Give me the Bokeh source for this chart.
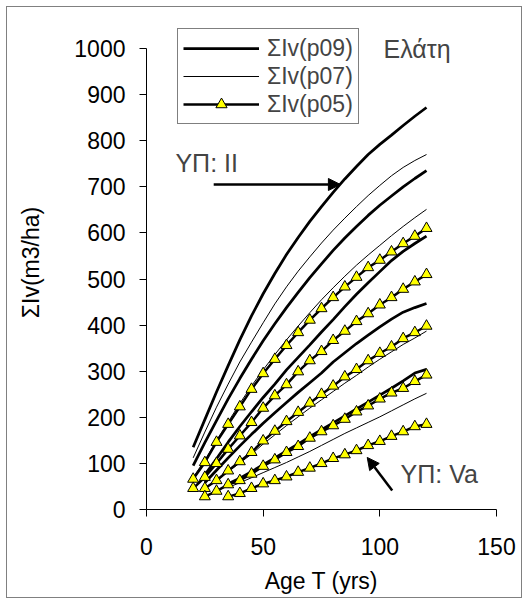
from bokeh.plotting import figure
from bokeh.models import (Range1d, FixedTicker, Legend, LegendItem, Label,
                          Arrow, NormalHead)
from bokeh.embed import file_html
from bokeh.resources import INLINE

# ---------------- data ----------------
T_II = [20, 25, 30, 35, 40, 45, 50, 55, 60, 65, 70, 75, 80, 85, 90, 95, 100, 105, 110, 115, 120]
T_IV = [25, 30, 35, 40, 45, 50, 55, 60, 65, 70, 75, 80, 85, 90, 95, 100, 105, 110, 115, 120]
T_Va = [35, 40, 45, 50, 55, 60, 65, 70, 75, 80, 85, 90, 95, 100, 105, 110, 115, 120]

# p09 (thick lines)
p09_II = [135, 195, 255, 312, 368, 420, 468, 512, 553, 590, 625, 657, 688, 717, 744, 770, 792, 812, 833, 853, 872]
p09_III = [95, 145, 193, 240, 284, 326, 366, 403, 438, 471, 503, 533, 562, 589, 614, 638, 660, 680, 700, 718, 735]
p09_IV = [75, 110, 146, 180, 212, 243, 272, 303, 330, 357, 385, 412, 440, 467, 492, 516, 540, 560, 577, 593]
p09_V = [58, 85, 112, 138, 163, 187, 210, 232, 254, 275, 296, 320, 340, 360, 378, 396, 413, 428, 438, 447]
p09_Va = [56, 68, 82, 97, 112, 127, 142, 158, 173, 188, 203, 218, 233, 248, 263, 279, 296, 304]

# p07 (thin lines)
p07_II = [112, 168, 222, 272, 320, 363, 405, 446, 483, 517, 548, 578, 606, 632, 657, 681, 703, 724, 742, 757, 770]
p07_III = [70, 107, 150, 190, 230, 268, 303, 336, 368, 398, 427, 455, 481, 506, 530, 552, 573, 594, 614, 633, 651]
p07_V = [45, 62, 82, 101, 120, 142, 162, 182, 201, 220, 238, 256, 274, 291, 309, 326, 342, 358, 372, 387]
p07_Va = [48, 58, 69, 80, 91, 102, 114, 126, 139, 152, 165, 177, 189, 201, 214, 227, 240, 252]

# p05 (thick lines with triangles)
p05_II = [66, 102, 146, 185, 223, 261, 295, 326, 356, 384, 411, 436, 460, 483, 504, 525, 541, 559, 577, 593, 610]
p05_III = [46, 70, 100, 131, 160, 189, 220, 247, 271, 299, 323, 343, 367, 387, 408, 425, 444, 460, 478, 494, 510]
p05_IV = [46, 63, 84, 104, 124, 149, 170, 191, 211, 231, 250, 268, 288, 304, 323, 339, 353, 371, 384, 398]
p05_V = [28, 40, 54, 63, 77, 94, 108, 124, 137, 155, 169, 182, 196, 212, 225, 240, 253, 263, 278, 292]
p05_Va = [28, 35, 46, 56, 63, 71, 81, 90, 100, 111, 119, 128, 139, 148, 159, 169, 180, 185]

x_ticks = [0, 50, 100, 150]
y_ticks = [0, 100, 200, 300, 400, 500, 600, 700, 800, 900, 1000]

series_labels = ["ΣIv(p09)", "ΣIv(p07)", "ΣIv(p05)"]
x_title = "Age T (yrs)"
y_title = "ΣIv(m3/ha)"
species = "Ελάτη"
note_top = "ΥΠ: II"
note_bottom = "ΥΠ: Va"

# ---------------- layout ----------------
FONT = "Liberation Sans"
FS = "23px"
FS_NOTE = "25px"
MARGIN = 6                      # outer chart-area border inset (page px)
W, H = 530 - 2 * MARGIN - 2, 606 - 2 * MARGIN - 2
LEFT, TOP = 146 - MARGIN - 1, 15 - MARGIN - 1
RIGHT = (530 - MARGIN - 1) - 496
BOTTOM = (606 - MARGIN - 1) - 509
frame_h = H - TOP - BOTTOM
px_per_100 = 46.1
y_end = 100.0 * frame_h / px_per_100

p = figure(width=W, height=H, output_backend="svg", toolbar_location=None,
           x_range=Range1d(0, 150), y_range=Range1d(0, y_end),
           min_border_left=LEFT, min_border_right=RIGHT,
           min_border_top=TOP, min_border_bottom=BOTTOM,
           background_fill_color="white", border_fill_color="white",
           margin=(MARGIN, MARGIN, MARGIN, MARGIN),
           styles={"border": "1px solid #808080"})
p.title.visible = False
p.outline_line_color = None
p.xgrid.visible = False
p.ygrid.visible = False

for ax in (p.xaxis[0], p.yaxis[0]):
    ax.axis_line_color = "black"
    ax.axis_line_width = 1
    ax.major_tick_line_color = "black"
    ax.major_tick_out = 7
    ax.major_tick_in = 0
    ax.minor_tick_line_color = None
    ax.major_label_text_font = FONT
    ax.major_label_text_font_size = FS
    ax.major_label_text_color = "black"
    ax.axis_label_text_font = FONT
    ax.axis_label_text_font_size = FS
    ax.axis_label_text_font_style = "normal"
    ax.axis_label_text_color = "black"

p.xaxis.ticker = FixedTicker(ticks=x_ticks)
p.yaxis.ticker = FixedTicker(ticks=y_ticks)
p.yaxis.bounds = (0, 1000)
p.xaxis.axis_label = x_title
p.yaxis.axis_label = y_title
p.xaxis.major_label_standoff = 21
p.xaxis.axis_label_standoff = 10
p.yaxis.major_label_standoff = 14
p.yaxis.axis_label_standoff = 27

# ---------------- series ----------------
r09 = None
for t, v in [(T_II, p09_II), (T_II, p09_III), (T_IV, p09_IV), (T_IV, p09_V), (T_Va, p09_Va)]:
    r = p.line(t, v, line_color="black", line_width=2.75)
    r09 = r09 or r

r07 = None
for t, v in [(T_II, p07_II), (T_II, p07_III), (T_IV, p07_V), (T_Va, p07_Va)]:
    r = p.line(t, v, line_color="black", line_width=1)
    r07 = r07 or r

r05l = r05s = None
for t, v in [(T_II, p05_II), (T_II, p05_III), (T_IV, p05_IV), (T_IV, p05_V), (T_Va, p05_Va)]:
    rl = p.line(t, v, line_color="black", line_width=2.5)
    rs = p.scatter(t, v, marker="triangle", size=11, fill_color="#FFFF00",
                   line_color="black", line_width=1)
    r05l = r05l or rl
    r05s = r05s or rs

legend = Legend(items=[LegendItem(label=series_labels[0], renderers=[r09]),
                       LegendItem(label=series_labels[1], renderers=[r07]),
                       LegendItem(label=series_labels[2], renderers=[r05l, r05s])],
                location=(31, 385), orientation="vertical",
                border_line_color="black", border_line_width=1,
                background_fill_color="white", background_fill_alpha=1,
                label_text_font=FONT, label_text_font_size=FS,
                padding=5, spacing=0, margin=0,
                glyph_width=76, glyph_height=28, label_height=28,
                label_standoff=8)
p.add_layout(legend, "center")

# ---------------- annotations ----------------
p.add_layout(Label(x=101.6, y=998, text=species, text_font=FONT,
                   text_font_size=FS_NOTE, text_baseline="alphabetic"))
p.add_layout(Label(x=12.4, y=752, text=note_top, text_font=FONT,
                   text_font_size=FS_NOTE, text_baseline="alphabetic"))
p.add_layout(Label(x=108.9, y=78, text=note_bottom, text_font=FONT,
                   text_font_size=FS_NOTE, text_baseline="alphabetic"))
p.add_layout(Arrow(x_start=28.8, y_start=705, x_end=83.1, y_end=705,
                   line_width=2.5, line_color="black",
                   end=NormalHead(size=12, fill_color="black", line_color="black")))
p.add_layout(Arrow(x_start=105.3, y_start=41, x_end=94.6, y_end=113,
                   line_width=2.5, line_color="black",
                   end=NormalHead(size=12, fill_color="black", line_color="black")))

open("out.html", "w").write(file_html(p, INLINE))
